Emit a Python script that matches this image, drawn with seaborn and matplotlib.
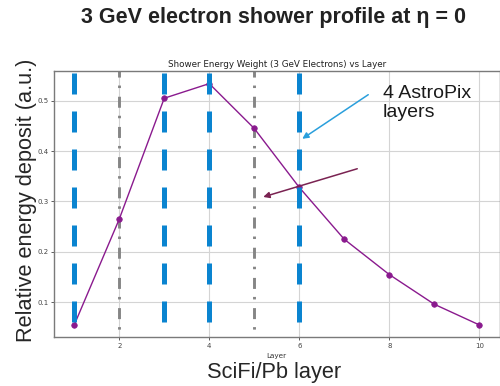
import matplotlib
matplotlib.use("Agg")
import matplotlib.pyplot as plt
import seaborn as sns
import pandas as pd

# ---- data ----
layers = [1, 2, 3, 4, 5, 6, 7, 8, 9, 10]
weights = [0.055, 0.265, 0.505, 0.534, 0.445, 0.328, 0.225, 0.155, 0.096, 0.055]
astropix_layers = [1, 3, 4, 6]
marker_layers = [2, 5]
xticks = [2, 4, 6, 8, 10]
yticks = [0.1, 0.2, 0.3, 0.4, 0.5]

sns.set_style("whitegrid")
plt.rcParams["font.family"] = ["DejaVu Sans"]
plt.rcParams["lines.scale_dashes"] = False

fig = plt.figure(figsize=(5.0, 3.86), dpi=100)
ax = fig.add_axes([0.108, 0.127, 0.891, 0.689])

df = pd.DataFrame({"Layer": layers, "Weight": weights})
sns.lineplot(data=df, x="Layer", y="Weight", ax=ax, color="#8a1a8e", lw=1.0,
             marker="o", markersize=4.0, markeredgecolor="#8a1a8e",
             markeredgewidth=0.5, zorder=2.5)

for lx in astropix_layers:
    ax.axvline(lx, color="#0a84d0", lw=3.6, ls=(16.56, (15.12, 12.24)), zorder=3)
for lx in marker_layers:
    ax.axvline(lx, color="#858585", lw=2.1, ls=(16.06, (1.8, 5.76, 7.92, 6.26)), zorder=2)

ax.set_xlim(0.55, 10.45)
ax.set_ylim(0.031, 0.559)
ax.set_xticks(xticks)
ax.set_yticks(yticks)
ax.grid(True, color="#d4d4d4", lw=0.8)
for s in ax.spines.values():
    s.set_color("#7a7a7a")
    s.set_linewidth(1.0)
ax.tick_params(axis="both", labelsize=5, colors="#444444", length=2.5, width=0.6,
               pad=1.5, left=True, bottom=True)
ax.set_xlabel("Layer", fontsize=5.2, color="#333333", labelpad=3)
ax.set_ylabel("")
ax.set_title("Shower Energy Weight (3 GeV Electrons) vs Layer", fontsize=6.3,
             color="#222222", pad=3)

# arrows
ax.annotate("", xy=(6.067, 0.4245), xytext=(7.533, 0.512),
            arrowprops=dict(arrowstyle="-|>", color="#2a9fdc", lw=1.1,
                            mutation_scale=9, shrinkA=0, shrinkB=0), zorder=5)
ax.annotate("", xy=(5.2, 0.309), xytext=(7.289, 0.365),
            arrowprops=dict(arrowstyle="-|>", color="#7a2352", lw=1.1,
                            mutation_scale=9, shrinkA=0, shrinkB=0), zorder=5)

big = ["Liberation Sans", "DejaVu Sans"]
fig.text(0.766, 0.780, "4 AstroPix\nlayers", fontsize=14, family=big,
         color="#1a1a1a", ha="left", va="top", linespacing=1.18)
fig.text(0.547, 1 - 23 / 386, "3 GeV electron shower profile at η = 0",
         fontsize=15.5, fontweight="bold", family=big, color="#222222",
         ha="center", va="baseline")
fig.text(0.549, 1 - 378 / 386, "SciFi/Pb layer", fontsize=15.7, family=big,
         color="#262626", ha="center", va="baseline")
fig.text(0.053, 0.482, "Relative energy deposit (a.u.)", fontsize=15.7,
         family=big, color="#262626", ha="center", va="center", rotation=90)

fig.savefig("out.png", dpi=100)
